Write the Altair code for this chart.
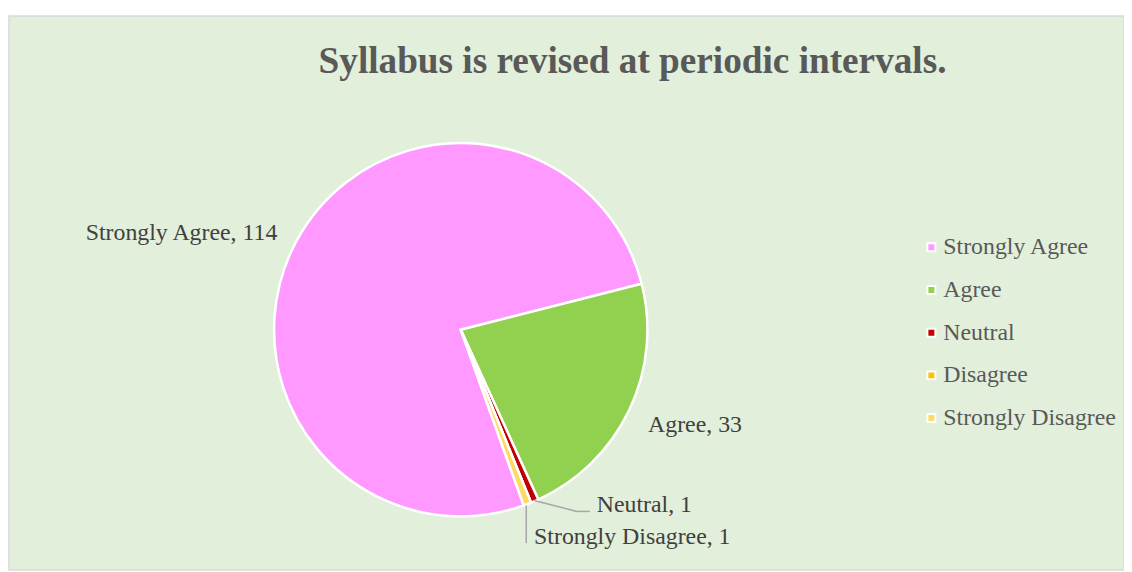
import math
import altair as alt
import pandas as pd

categories = ["Strongly Agree", "Agree", "Neutral", "Disagree", "Strongly Disagree"]
values = [114, 33, 1, 0, 1]
colors = ["#FF99FF", "#92D050", "#C00000", "#FFC000", "#FFD966"]
title_text = "Syllabus is revised at periodic intervals."

df = pd.DataFrame({
    "category": categories,
    "value": values,
    "order": list(range(len(categories))),
})
df["label"] = df["category"] + ", " + df["value"].astype(str)

W, H = 1123, 558
CX, CY = 455, 316
R = 188
start = math.radians(160.3)

theta_scale = alt.Scale(type="linear", zero=True, range=[start, start + 2 * math.pi])
color = alt.Color("category:N", title=None,
                  scale=alt.Scale(domain=categories, range=colors),
                  legend=alt.Legend(orient="none", legendX=917, legendY=221,
                                    symbolType="square", symbolSize=64,
                                    symbolStrokeColor="white", symbolStrokeWidth=2,
                                    symbolOpacity=1,
                                    labelFont="Liberation Serif", labelFontSize=24,
                                    labelColor="#595959", labelOffset=0,
                                    labelLimit=400,
                                    rowPadding=19))

pie = alt.Chart(df).mark_arc(radius=R, stroke="white", strokeWidth=2.5).encode(
    theta=alt.Theta("value:Q", stack=True, scale=theta_scale),
    order=alt.Order("order:Q"),
    color=color,
    x=alt.value(CX), y=alt.value(CY),
)

label_base = alt.Chart(df).transform_window(
    cum="sum(value)", sort=[alt.SortField("order")]
).transform_calculate(
    mid="datum.cum - datum.value / 2"
)

def label_layer(cat, align, dx, dy):
    return label_base.transform_filter(alt.datum.category == cat).mark_text(
        radius=207, align=align, baseline="middle", dx=dx, dy=dy,
        font="Liberation Serif", fontSize=24, color="#404040",
    ).encode(
        theta=alt.Theta("mid:Q", stack=None, scale=theta_scale),
        text="label:N",
        x=alt.value(CX), y=alt.value(CY),
    )

labels = [
    label_layer("Strongly Agree", "right", -2, 0),
    label_layer("Agree", "left", 2, 7),
    label_layer("Neutral", "left", 55, -13),
    label_layer("Strongly Disagree", "left", 0, 15),
]

lead_color = "#A6A6A6"
leader1 = alt.Chart(df).transform_filter(alt.datum.category == "Neutral").mark_rule(
    color=lead_color, strokeWidth=1.5).encode(
    x=alt.value(529), y=alt.value(488), x2=alt.value(572), y2=alt.value(499))
leader2 = alt.Chart(df).transform_filter(alt.datum.category == "Neutral").mark_rule(
    color=lead_color, strokeWidth=1.5).encode(
    x=alt.value(572), y=alt.value(499), x2=alt.value(585), y2=alt.value(499))
leader3 = alt.Chart(df).transform_filter(alt.datum.category == "Strongly Disagree").mark_rule(
    color=lead_color, strokeWidth=1.5).encode(
    x=alt.value(521), y=alt.value(493), x2=alt.value(521), y2=alt.value(531))

title = alt.Chart(pd.DataFrame({"t": [title_text]})).mark_text(
    font="Liberation Serif", fontSize=37.5, fontWeight="bold", color="#595959",
    align="center", baseline="middle",
).encode(text="t:N", x=alt.value(628), y=alt.value(46))

chart = alt.layer(pie, *labels, leader1, leader2, leader3, title).properties(
    width=W, height=H,
    autosize=alt.AutoSizeParams(type="none"),
    padding={"left": 1, "top": 6, "right": 0, "bottom": 0},
    background="white",
).configure_view(fill="#E2EFDA", stroke="#D9D9D9", strokeWidth=1.5)

chart.save("out.html", embed_options={"renderer": "svg", "actions": False})
